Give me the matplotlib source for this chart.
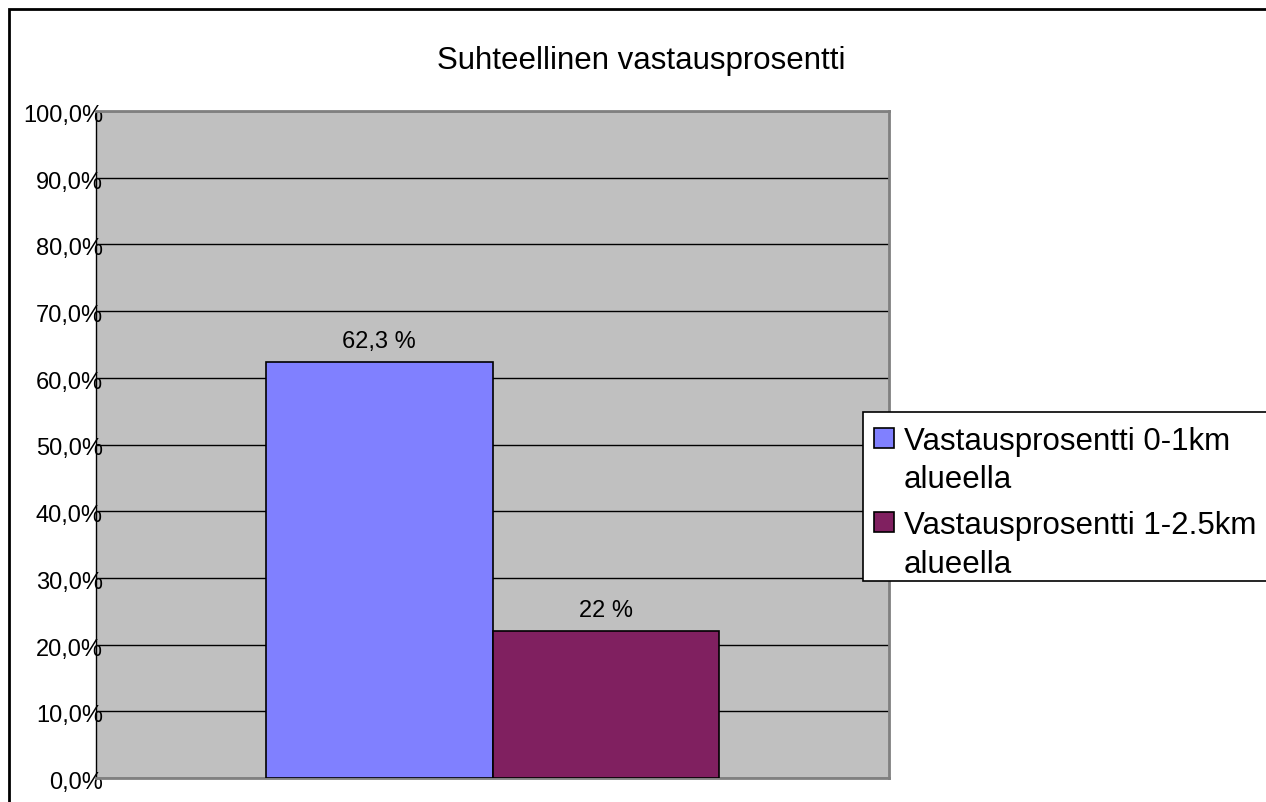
import matplotlib
matplotlib.use("Agg")
import matplotlib.pyplot as plt
import matplotlib.transforms as mtransforms
from matplotlib.patches import Rectangle

plt.rcParams['font.family'] = ['Liberation Sans', 'DejaVu Sans']

title = "Suhteellinen vastausprosentti"
series_names = ["Vastausprosentti 0-1km\nalueella", "Vastausprosentti 1-2.5km\nalueella"]
values = [62.3, 22.0]
value_labels = ["62,3 %", "22 %"]
colors = ["#8080FF", "#802060"]
yticks = [0, 10, 20, 30, 40, 50, 60, 70, 80, 90, 100]
ytick_labels = ["0,0%", "10,0%", "20,0%", "30,0%", "40,0%", "50,0%", "60,0%", "70,0%", "80,0%", "90,0%", "100,0%"]

W, H = 1266, 803
fig = plt.figure(figsize=(W / 100, H / 100), dpi=100)
fig.patch.set_facecolor("white")

# outer chart border (extends beyond right/bottom edges as in the reference)
fig.patches.append(Rectangle((9 / W, -0.1), 1.2, 1.1 - 10 / H, transform=fig.transFigure,
                             fill=False, edgecolor="black", linewidth=2.0, zorder=0))

left, right, top, bottom = 96, 889, 112, 779
ax = fig.add_axes([left / W, 1 - bottom / H, (right - left) / W, (bottom - top) / H])
ax.set_facecolor("#C0C0C0")
ax.set_xlim(-0.5, 0.5)
ax.set_ylim(0, 100)

width = 0.286
offsets = [-width / 2, width / 2]
for i, (v, c) in enumerate(zip(values, colors)):
    ax.bar(offsets[i], v, width=width, color=c, edgecolor="black", linewidth=1.2, zorder=3)
    ax.text(offsets[i], v + 1.6, value_labels[i], ha="center", va="bottom", fontsize=17, zorder=4)

ax.set_yticks(yticks)
ax.set_yticklabels(ytick_labels, fontsize=17, va="center")
ax.set_xticks([])
ax.tick_params(axis="y", length=0, pad=-5)
shift = mtransforms.ScaledTranslation(0, -4 / 100, fig.dpi_scale_trans)
for lbl in ax.get_yticklabels():
    lbl.set_transform(lbl.get_transform() + shift)
ax.yaxis.grid(True, color="black", linewidth=1.0, zorder=1)
ax.set_axisbelow(True)
for s in ["top", "right", "bottom"]:
    ax.spines[s].set_color("#808080")
    ax.spines[s].set_linewidth(2.0)
ax.spines["left"].set_color("black")
ax.spines["left"].set_linewidth(1.0)

fig.text(641 / W, 1 - 61 / H, title, ha="center", va="center", fontsize=22.5)

# legend drawn manually to match the reference layout
def fx(px):
    return px / W

def fy(py):
    return 1 - py / H

fig.patches.append(Rectangle((fx(863), fy(582)), fx(1300) - fx(863), fy(413) - fy(582),
                             transform=fig.transFigure, facecolor="white",
                             edgecolor="black", linewidth=1.2, zorder=5))
square_top = [429, 513]
baselines = [(450, 488), (534, 573)]
for i, name in enumerate(series_names):
    fig.patches.append(Rectangle((fx(874), fy(square_top[i] + 20)), fx(20), 20 / H,
                                 transform=fig.transFigure, facecolor=colors[i],
                                 edgecolor="black", linewidth=1.2, zorder=6))
    for line, yb in zip(name.split("\n"), baselines[i]):
        fig.text(fx(904), fy(yb), line, ha="left", va="baseline", fontsize=22.5, zorder=7)

fig.savefig("out.png", dpi=100)
